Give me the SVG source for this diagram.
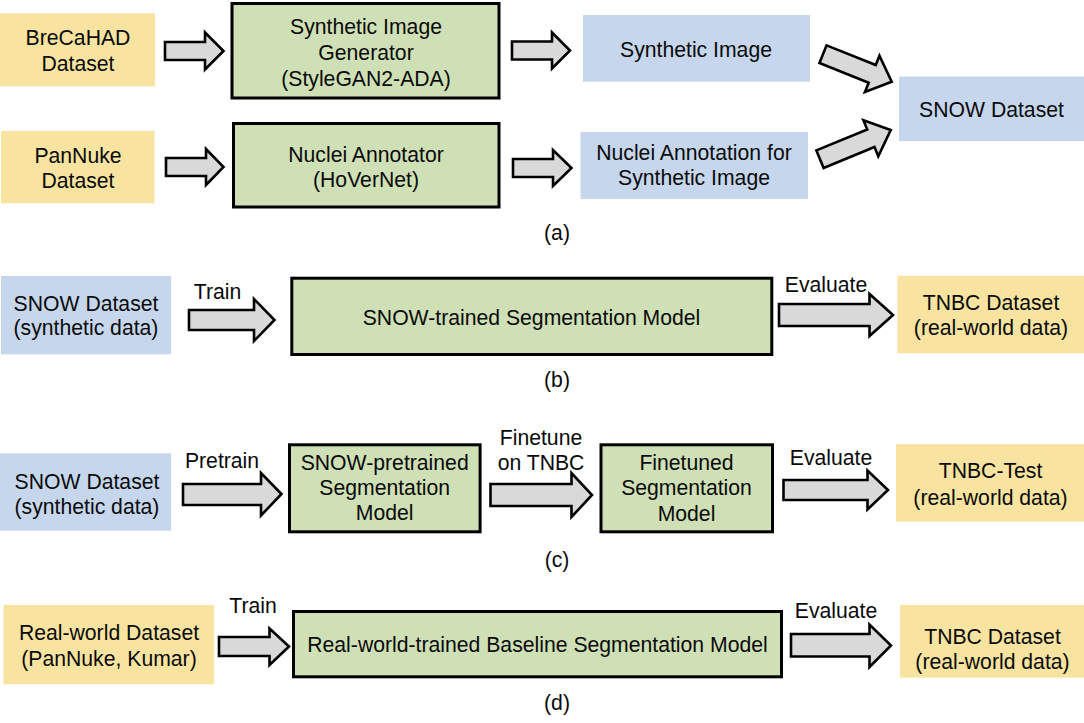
<svg xmlns="http://www.w3.org/2000/svg" width="1084" height="723" viewBox="0 0 1084 723">
<style>
text{font-family:"Liberation Sans",Arial,sans-serif;font-size:21.2px;fill:#0a0a0a;text-anchor:middle}
.y{fill:#f8e4a0}
.b{fill:#c6d7ed}
.g{fill:#cfe0b6;stroke:#000;stroke-width:3}
.arr{fill:#d9d9d9;stroke:#000;stroke-width:2.6;stroke-linejoin:miter}
</style>
<rect width="1084" height="723" fill="#fff"/>
<g id="brecahad"><rect class="y" x="0" y="13.3" width="155" height="73"/><text x="78" y="45">BreCaHAD</text><text x="78" y="70.7">Dataset</text></g>
<g id="pannuke"><rect class="y" x="1" y="131" width="153.5" height="72.3"/><text x="78" y="162.7">PanNuke</text><text x="78" y="187.7">Dataset</text></g>
<g id="generator"><rect class="g" x="232" y="3.5" width="267" height="94.5"/><text x="366" y="33.5">Synthetic Image</text><text x="366" y="59.5">Generator</text><text x="366" y="85.5">(StyleGAN2-ADA)</text></g>
<g id="annotator"><rect class="g" x="233.5" y="123.5" width="265.5" height="83.5"/><text x="366" y="161.7">Nuclei Annotator</text><text x="366" y="186.5">(HoVerNet)</text></g>
<g id="synimg"><rect class="b" x="583" y="15" width="227" height="66.7"/><text x="696" y="56.5">Synthetic Image</text></g>
<g id="nucann"><rect class="b" x="580.5" y="132" width="227.5" height="67"/><text x="694" y="160">Nuclei Annotation for</text><text x="694" y="185">Synthetic Image</text></g>
<g id="snow-a"><rect class="b" x="899" y="76.5" width="185" height="64.5"/><text x="991.5" y="116.7">SNOW Dataset</text></g>
<text x="557" y="240">(a)</text>

<g id="snow-b"><rect class="b" x="1" y="276" width="170" height="78.3"/><text x="86" y="311">SNOW Dataset</text><text x="86" y="335">(synthetic data)</text></g>
<g id="seg-b"><rect class="g" x="291.8" y="278.2" width="480" height="76.3"/><text x="531.5" y="325">SNOW-trained Segmentation Model</text></g>
<g id="tnbc-b"><rect class="y" x="897.4" y="275.7" width="186.6" height="77.6"/><text x="991" y="310">TNBC Dataset</text><text x="991" y="335">(real-world data)</text></g>
<text x="557" y="386.7">(b)</text>

<g id="snow-c"><rect class="b" x="0" y="453.3" width="171" height="77.4"/><text x="87" y="488.5">SNOW Dataset</text><text x="87" y="513.5">(synthetic data)</text></g>
<g id="pre-c"><rect class="g" x="289.5" y="444.8" width="190.6" height="87"/><text x="384.7" y="470">SNOW-pretrained</text><text x="384.7" y="495">Segmentation</text><text x="384.7" y="520">Model</text></g>
<g id="fine-c"><rect class="g" x="601" y="444.8" width="171.5" height="87"/><text x="686.5" y="470">Finetuned</text><text x="686.5" y="495">Segmentation</text><text x="686.5" y="520.5">Model</text></g>
<g id="tnbctest-c"><rect class="y" x="896" y="444" width="188" height="77.7"/><text x="990.5" y="478.3">TNBC-Test</text><text x="990.5" y="504.5">(real-world data)</text></g>
<text x="557" y="567">(c)</text>

<g id="real-d"><rect class="y" x="3.4" y="605" width="210.8" height="79.3"/><text x="109" y="640">Real-world Dataset</text><text x="109" y="666">(PanNuke, Kumar)</text></g>
<g id="base-d"><rect class="g" x="293.5" y="611.5" width="488" height="65.3"/><text x="537.5" y="651.7">Real-world-trained Baseline Segmentation Model</text></g>
<g id="tnbc-d"><rect class="y" x="900" y="605" width="184" height="72.7"/><text x="992.5" y="644">TNBC Dataset</text><text x="992.5" y="669">(real-world data)</text></g>
<text x="557" y="710">(d)</text>

<g id="connectors">
<polygon class="arr" points="165,42 205,42 205,32.5 223.5,51 205,69.5 205,60 165,60"/>
<polygon class="arr" points="166,158 206,158 206,149 223.5,167 206,185 206,176 166,176"/>
<polygon class="arr" points="512,41.5 552,41.5 552,32.5 570,50.5 552,68.5 552,59.5 512,59.5"/>
<polygon class="arr" points="513,159 553,159 553,150 571.5,168 553,186 553,177 513,177"/>
<polygon class="arr" transform="translate(823,54.2) rotate(21.8)" points="0,-9.5 53,-9.5 53,-19.5 74,0 53,19.5 53,9.5 0,9.5"/>
<polygon class="arr" transform="translate(820,159.2) rotate(-22.4)" points="0,-9.5 55,-9.5 55,-19.5 76.5,0 55,19.5 55,9.5 0,9.5"/>
<polygon class="arr" points="189,310 254,310 254,299 274.5,320 254,341 254,330 189,330"/>
<text x="217.5" y="298.5">Train</text>
<polygon class="arr" points="779,304 869.5,304 869.5,294 893,315 869.5,336 869.5,326 779,326"/>
<text x="826" y="291.5">Evaluate</text>
<polygon class="arr" points="183,484 261,484 261,473 281.5,494 261,515.5 261,505 183,505"/>
<text x="222" y="468.3">Pretrain</text>
<polygon class="arr" points="490.5,484 571.5,484 571.5,473 592,495 571.5,517 571.5,506 490.5,506"/>
<text x="541" y="445">Finetune</text><text x="541" y="470">on TNBC</text>
<polygon class="arr" points="783.5,480 867.5,480 867.5,470.5 888,490 867.5,509.5 867.5,500 783.5,500"/>
<text x="831" y="465">Evaluate</text>
<polygon class="arr" points="219,637 269.5,637 269.5,628.5 289,646.5 269.5,665 269.5,656 219,656"/>
<text x="253" y="613.3">Train</text>
<polygon class="arr" points="791,634 869.5,634 869.5,624.5 891,645.5 869.5,667 869.5,656.5 791,656.5"/>
<text x="836" y="618.3">Evaluate</text>
</g>
</svg>
